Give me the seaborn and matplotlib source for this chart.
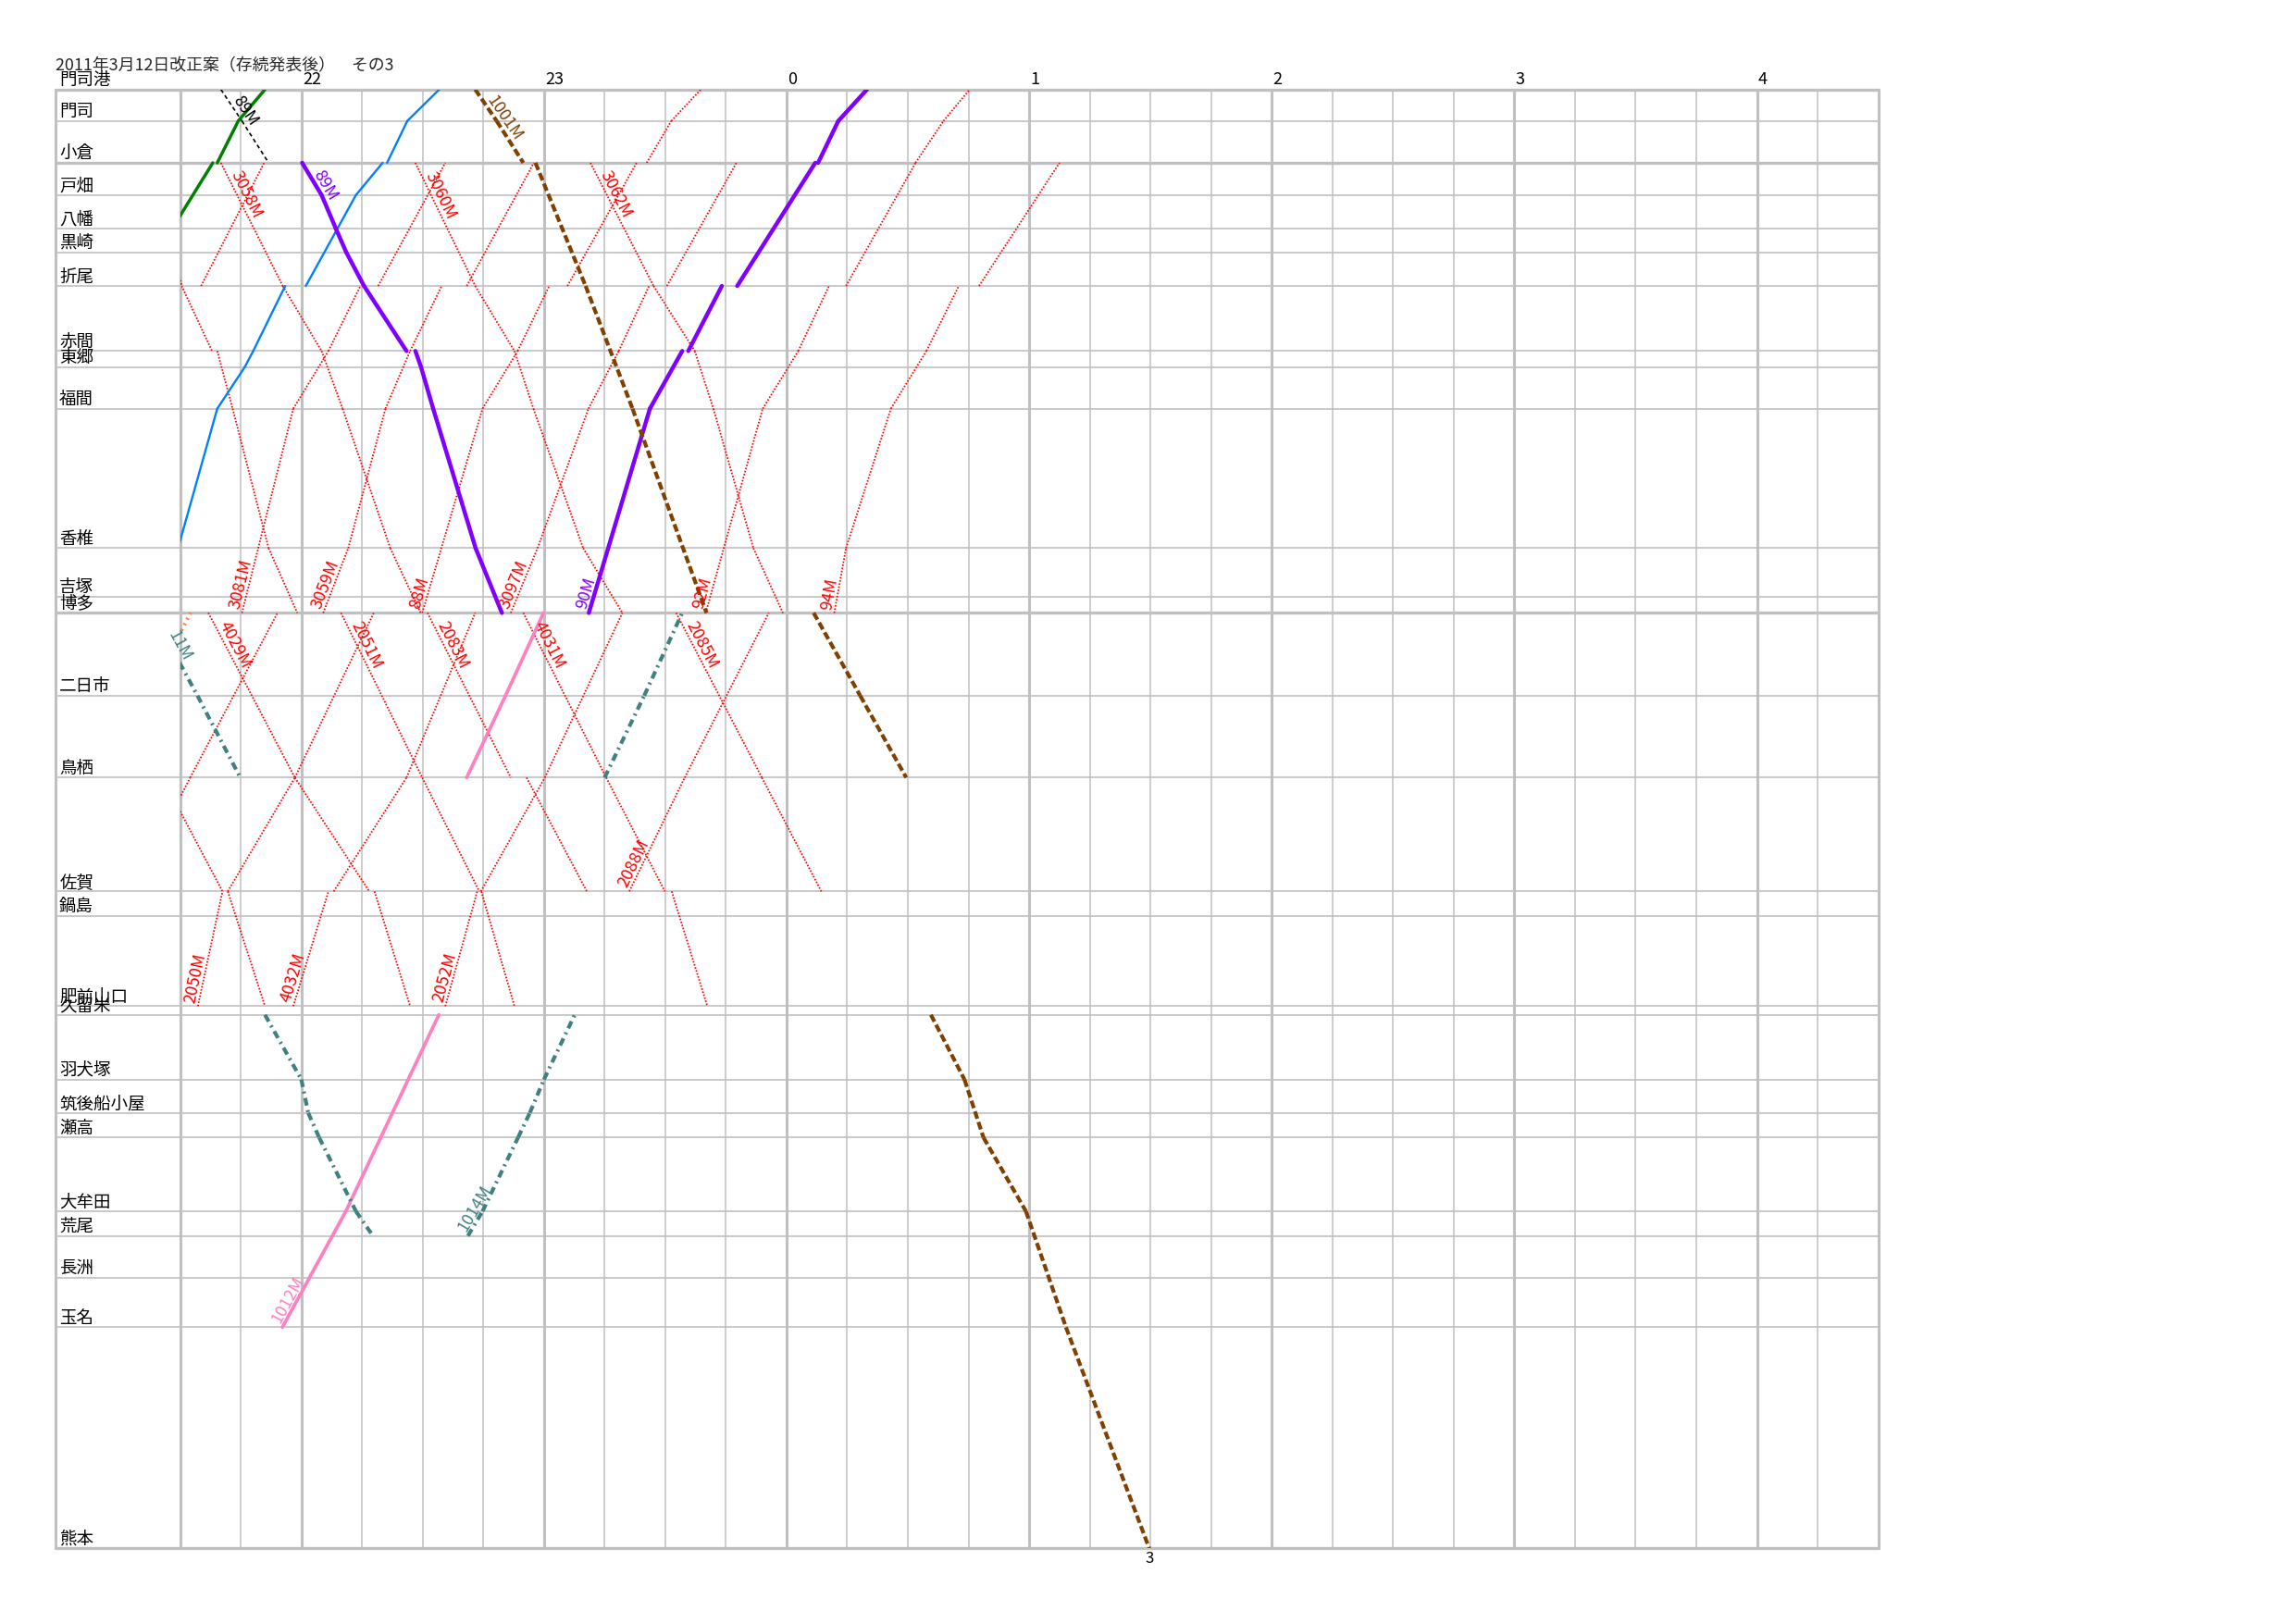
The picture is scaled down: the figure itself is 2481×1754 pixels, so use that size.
import numpy as np
import pandas as pd
import matplotlib
matplotlib.use("Agg")
import matplotlib.pyplot as plt
import seaborn as sns
from matplotlib.patches import Rectangle

# Stations and their position along the diagram (top = 門司港)
stations = ['門司港', '門司', '小倉', '戸畑', '八幡', '黒崎', '折尾', '赤間', '東郷', '福間',
            '香椎', '吉塚', '博多', '二日市', '鳥栖', '佐賀', '鍋島', '肥前山口', '久留米',
            '羽犬塚', '筑後船小屋', '瀬高', '大牟田', '荒尾', '長洲', '玉名', '熊本']
station_pos = [0, 21.5, 50.1, 72.1, 94.8, 111.2, 134.2, 178.6, 189.6, 218.0,
               313.3, 346.5, 357.5, 414.0, 470.0, 547.7, 564.6, 626.1, 632.0,
               676.2, 699.0, 715.8, 766.2, 783.0, 811.7, 845.4, 996.4]
thick_stations = ['門司港', '小倉', '博多', '熊本']
hour_labels = [22, 23, 0, 1, 2, 3, 4]
title = '2011年3月12日改正案（存続発表後）　その3'

# trains: (station, time); same station twice = stop
green_up = [('八幡', '21:28.1'), ('小倉', '21:38.1'), ('小倉', '21:39.2'), ('門司', '21:44.4'), ('門司港', '21:51.0')]
black_89M = [('門司港', '21:40.1'), ('門司', '21:45.3'), ('小倉', '21:51.9')]
purple_89M = [('小倉', '22:00.2'), ('戸畑', '22:05.0'), ('八幡', '22:08.5'), ('黒崎', '22:11.1'), ('折尾', '22:15.5'),
              ('赤間', '22:26.0'), ('赤間', '22:28.2'), ('東郷', '22:29.6'), ('福間', '22:32.6'), ('香椎', '22:43.1'),
              ('博多', '22:49.6')]
purple_90M = [('博多', '23:11.1'), ('福間', '23:26.2'), ('赤間', '23:34.2'), ('赤間', '23:35.7'), ('折尾', '23:44.0'),
              ('折尾', '23:47.8'), ('小倉', '0:07.1'), ('小倉', '0:07.8'), ('門司', '0:12.8'), ('門司港', '0:19.9')]
blue_up = [('香椎', '21:29.5'), ('福間', '21:39.2'), ('東郷', '21:46.0'), ('赤間', '21:48.1'), ('折尾', '21:56.0'),
           ('折尾', '22:01.1'), ('戸畑', '22:13.5'), ('小倉', '22:20.1'), ('小倉', '22:21.2'), ('門司', '22:26.2'),
           ('門司港', '22:34.1')]
brown_1001M = [('門司港', '22:43.0'), ('門司', '22:48.3'), ('小倉', '22:54.9'), ('小倉', '22:57.9'), ('折尾', '23:10.3'),
               ('福間', '23:21.9'), ('博多', '23:40.2'), ('博多', '0:06.7'), ('二日市', '0:18.2'), ('鳥栖', '0:29.6'),
               ('久留米', '0:35.7'), ('羽犬塚', '0:44.0'), ('瀬高', '0:48.7'), ('大牟田', '0:59.2'), ('玉名', '1:09.1'),
               ('熊本', '1:29.7')]
pink_1012M = [('玉名', '21:55.3'), ('大牟田', '22:11.0'), ('久留米', '22:34.0'), ('鳥栖', '22:40.9'),
              ('二日市', '22:50.5'), ('博多', '22:59.9')]
teal_11M = [('博多', '21:23.2'), ('二日市', '21:34.3'), ('鳥栖', '21:44.9'), ('久留米', '21:51.0'), ('羽犬塚', '22:00.0'),
            ('筑後船小屋', '22:01.7'), ('瀬高', '22:04.4'), ('大牟田', '22:13.5'), ('荒尾', '22:17.7')]
teal_1014M = [('荒尾', '22:41.2'), ('大牟田', '22:44.8'), ('瀬高', '22:53.6'), ('筑後船小屋', '22:56.5'),
              ('羽犬塚', '23:00.0'), ('久留米', '23:07.6'), ('鳥栖', '23:15.0'), ('二日市', '23:24.8'), ('博多', '23:34.2')]
orange_up = [('二日市', '21:22.0'), ('博多', '21:32.6')]

# local trains (red dotted)
r_down_a = [('黒崎', '21:28.5'), ('折尾', '21:30.4'), ('赤間', '21:37.9'), ('赤間', '21:39.2'), ('福間', '21:43.0'),
            ('香椎', '21:51.9'), ('博多', '21:59.0')]
r_3058M = [('小倉', '21:40.1'), ('折尾', '21:55.4'), ('赤間', '22:05.0'), ('福間', '22:10.2'), ('香椎', '22:22.0'),
           ('博多', '22:29.5')]
r_3060M = [('小倉', '22:28.2'), ('折尾', '22:43.0'), ('赤間', '22:52.7'), ('福間', '22:57.4'), ('香椎', '23:09.7'),
           ('博多', '23:19.4')]
r_3062M = [('小倉', '23:11.5'), ('折尾', '23:27.1'), ('赤間', '23:37.3'), ('福間', '23:41.9'), ('香椎', '23:51.8'),
           ('博多', '23:59.1')]
r_up_a = [('折尾', '21:35.2'), ('小倉', '21:50.8')]
r_3081M = [('博多', '21:45.3'), ('福間', '21:58.0'), ('赤間', '22:06.7'), ('折尾', '22:14.6'), ('折尾', '22:19.0'),
           ('小倉', '22:35.6')]
r_3059M = [('博多', '22:05.4'), ('香椎', '22:11.6'), ('福間', '22:20.8'), ('赤間', '22:26.9'), ('折尾', '22:34.7'),
           ('折尾', '22:40.9'), ('小倉', '22:57.5')]
r_88M = [('博多', '22:29.9'), ('福間', '22:44.8'), ('赤間', '22:53.5'), ('折尾', '23:01.3'), ('折尾', '23:05.8'),
         ('小倉', '23:22.9'), ('小倉', '23:25.4'), ('門司', '23:31.5'), ('門司港', '23:38.8')]
r_3097M = [('博多', '22:51.8'), ('香椎', '22:58.4'), ('福間', '23:11.0'), ('赤間', '23:18.5'), ('折尾', '23:26.0'),
           ('折尾', '23:30.4'), ('小倉', '23:47.6')]
r_92M = [('博多', '23:40.0'), ('福間', '23:54.1'), ('赤間', '0:02.9'), ('折尾', '0:10.5'), ('折尾', '0:14.7'),
         ('小倉', '0:31.9'), ('門司', '0:38.8'), ('門司港', '0:45.3')]
r_94M = [('博多', '0:11.8'), ('香椎', '0:14.7'), ('福間', '0:25.8'), ('赤間', '0:34.6'), ('折尾', '0:42.6'),
         ('折尾', '0:47.6'), ('小倉', '1:07.5')]
r_up_b = [('佐賀', '21:18.0'), ('鳥栖', '21:32.5'), ('博多', '21:54.1')]
r_2050M = [('肥前山口', '21:34.4'), ('佐賀', '21:40.5'), ('佐賀', '21:41.8'), ('鳥栖', '21:58.4'), ('博多', '22:17.9')]
r_4032M = [('肥前山口', '21:58.0'), ('佐賀', '22:06.7'), ('佐賀', '22:08.0'), ('鳥栖', '22:26.0'), ('博多', '22:43.0')]
r_2052M = [('肥前山口', '22:35.6'), ('佐賀', '22:43.5'), ('佐賀', '22:44.4'), ('鳥栖', '23:00.2'), ('博多', '23:19.4')]
r_2088M = [('佐賀', '23:21.1'), ('鳥栖', '23:34.8'), ('博多', '23:55.6')]
r_down_b = [('鳥栖', '21:25.6'), ('佐賀', '21:40.5'), ('佐賀', '21:41.8'), ('肥前山口', '21:51.0')]
r_4029M = [('博多', '21:37.0'), ('鳥栖', '21:58.4'), ('佐賀', '22:16.8'), ('佐賀', '22:18.1'), ('肥前山口', '22:26.9')]
r_2051M = [('博多', '22:09.8'), ('鳥栖', '22:29.9'), ('佐賀', '22:44.0'), ('佐賀', '22:44.5'), ('肥前山口', '22:52.7')]
r_2083M = [('博多', '22:31.2'), ('鳥栖', '22:51.8'), ('鳥栖', '22:55.7'), ('佐賀', '23:10.6')]
r_4031M = [('博多', '22:54.9'), ('鳥栖', '23:15.4'), ('佐賀', '23:29.9'), ('佐賀', '23:31.6'), ('肥前山口', '23:40.4')]
r_2085M = [('博多', '23:32.7'), ('鳥栖', '23:53.9'), ('佐賀', '0:08.6')]

trains = [
    ('', 'red', r_down_a), ('3058M', 'red', r_3058M), ('3060M', 'red', r_3060M), ('3062M', 'red', r_3062M),
    ('', 'red', r_up_a), ('3081M', 'red', r_3081M), ('3059M', 'red', r_3059M), ('88M', 'red', r_88M),
    ('3097M', 'red', r_3097M), ('92M', 'red', r_92M), ('94M', 'red', r_94M),
    ('', 'red', r_up_b), ('2050M', 'red', r_2050M), ('4032M', 'red', r_4032M), ('2052M', 'red', r_2052M),
    ('2088M', 'red', r_2088M), ('', 'red', r_down_b), ('4029M', 'red', r_4029M), ('2051M', 'red', r_2051M),
    ('2083M', 'red', r_2083M), ('4031M', 'red', r_4031M), ('2085M', 'red', r_2085M),
    ('89M', 'black', black_89M), ('', 'green', green_up), ('', 'blue', blue_up),
    ('89M', 'purple', purple_89M), ('90M', 'purple', purple_90M), ('1001M', 'brown', brown_1001M),
    ('1012M', 'pink', pink_1012M), ('11M', 'teal', teal_11M), ('1014M', 'teal', teal_1014M),
    ('', 'orange', orange_up),
]
edge_labels = ['11M']
end_marks = {'1001M': '3'}
not_adjacent = [{'鳥栖', '久留米'}]

kinds = ['red', 'black', 'green', 'blue', 'purple', 'brown', 'pink', 'teal', 'orange']
palette = {'red': '#FF0000', 'black': '#000000', 'green': '#008000', 'blue': '#0080FF', 'purple': '#8000FF',
           'brown': '#804000', 'pink': '#FF80C0', 'teal': '#408080', 'orange': '#FF8040'}
widths = {'red': 1.3, 'black': 1.2, 'green': 2.5, 'blue': 1.7, 'purple': 3.2, 'brown': 3.0, 'pink': 2.7,
          'teal': 3.0, 'orange': 2.8}
dashes = {'red': (0.9, 1.0), 'black': (2.6, 2), 'green': '', 'blue': '', 'purple': '', 'brown': (2, 0.9),
          'pink': '', 'teal': (2, 1.2, 0.5, 1.2), 'orange': (0.5, 1.2)}

POS = dict(zip(stations, station_pos))
T0 = 21 * 60 + 30
T_END = 420          # 04:30
X_LEFT = -30.8       # left frame (station name column)
Y_END = station_pos[-1]


def tmin(s):
    h, m = s.split(':')
    h = int(h)
    if h < 12:
        h += 24
    return h * 60 + float(m) - T0


# segments between consecutive stations (stops are left open like the original)
rows = []
seg = 0
for label, kind, stops in trains:
    for a, b in zip(stops[:-1], stops[1:]):
        if a[0] == b[0] or {a[0], b[0]} in not_adjacent:
            continue
        rows.append((seg, kind, tmin(a[1]), POS[a[0]]))
        rows.append((seg, kind, tmin(b[1]), POS[b[0]]))
        seg += 1
df = pd.DataFrame(rows, columns=['seg', 'kind', 't', 'pos'])

sns.set_theme(style='white')
plt.rcParams['font.family'] = ['Noto Sans CJK JP', 'DejaVu Sans']

fig = plt.figure(figsize=(24.81, 17.54), dpi=100)
ax = fig.add_axes([0.02418, 0.04601, 0.79388, 0.89886])
ax.set_xlim(X_LEFT, T_END)
ax.set_ylim(Y_END, 0)
ax.axis('off')

grid_c = '#C0C0C0'
# vertical grid every 15 minutes
for t in range(0, T_END + 1, 15):
    thick = t in (0, T_END) or ((t + 30) % 60 == 0)
    ax.plot([t, t], [0, Y_END], color=grid_c, lw=2.2 if thick else 1.1, clip_on=False, zorder=1)
ax.plot([X_LEFT, X_LEFT], [0, Y_END], color=grid_c, lw=2.2, clip_on=False, zorder=1)
for name, p in zip(stations, station_pos):
    ax.plot([X_LEFT, T_END], [p, p], color=grid_c, lw=2.4 if name in thick_stations else 1.2,
            clip_on=False, zorder=1)
    ax.annotate(name, (X_LEFT, p), xytext=(3, 0.5), textcoords='offset points', ha='left', va='bottom',
                fontsize=13.3, color='black')

for h in hour_labels:
    t = ((h if h >= 12 else h + 24) - 21.5) * 60
    ax.annotate(str(h), (t, 0), xytext=(1, 1.5), textcoords='offset points', ha='left', va='bottom',
                fontsize=13, color='black')

n0 = len(ax.lines)
sns.lineplot(data=df, x='t', y='pos', hue='kind', style='kind', size='kind', units='seg', estimator=None,
             sort=False, hue_order=kinds, style_order=kinds, size_order=kinds, palette=palette, dashes=dashes,
             sizes=widths, legend=False, ax=ax)
clip = Rectangle((0, 0), T_END, Y_END, transform=ax.transData)
for ln in ax.lines[n0:]:
    ln.set_clip_path(clip)
    ln.set_zorder(3)
ax.set_xlim(X_LEFT, T_END)
ax.set_ylim(Y_END, 0)
ax.axis('off')

inv = ax.transData.inverted()


def place_label(p0, p1, text, color, edge=False):
    d0 = ax.transData.transform(p0)
    d1 = ax.transData.transform(p1)
    v = d1 - d0
    ang = np.degrees(np.arctan2(v[1], v[0]))
    u = v / np.hypot(*v)
    if edge:
        k = (0 - p0[0]) / (p1[0] - p0[0])
        pe = (0, p0[1] + k * (p1[1] - p0[1]))
        ax.text(pe[0], pe[1], text, rotation=ang, rotation_mode='anchor', ha='right', va='bottom',
                fontsize=13, color=color, zorder=4)
        return
    # down-running labels start a little way along the line so they stay below the station line
    shift = 16 if ang < 0 else 2
    a = inv.transform(d0 + u * shift)
    ax.text(a[0], a[1], text, rotation=ang, rotation_mode='anchor', ha='left', va='bottom',
            fontsize=13, color=color, zorder=4)


for label, kind, stops in trains:
    if not label:
        continue
    pts = [(tmin(s[1]), POS[s[0]]) for s in stops]
    p0 = pts[0]
    p1 = next(p for p in pts[1:] if p[1] != p0[1])
    place_label(p0, p1, label, palette[kind], edge=label in edge_labels)
    if label in end_marks:
        ax.annotate(end_marks[label], pts[-1], xytext=(0, -2), textcoords='offset points', ha='center',
                    va='top', fontsize=12, color='black')

fig.text(60 / 2481, 1 - 76 / 1754, title, fontsize=12.9, va='baseline', ha='left')

fig.savefig('out.png', dpi=100, facecolor='white')
